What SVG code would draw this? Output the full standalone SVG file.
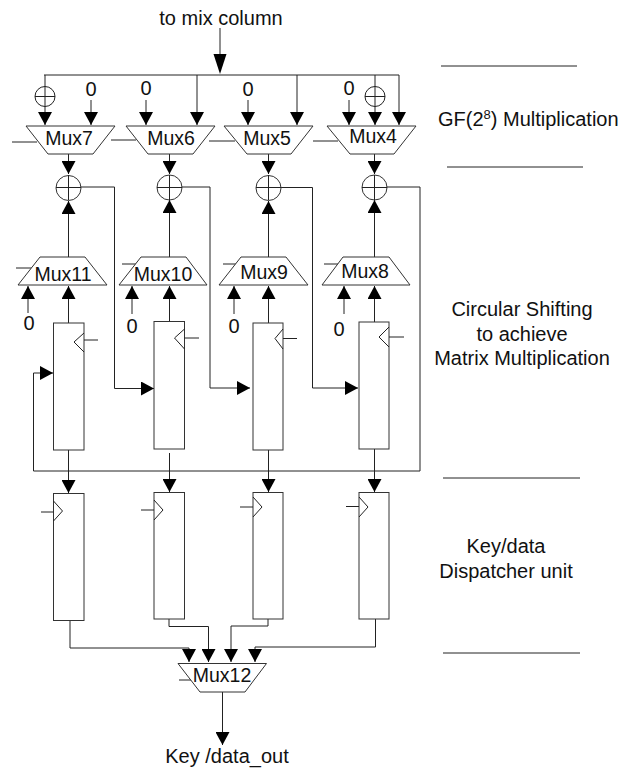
<svg xmlns="http://www.w3.org/2000/svg" width="619" height="771" viewBox="0 0 619 771">
<style>
text{font-family:"Liberation Sans",Arial,sans-serif;font-size:20px;fill:#111}
.x{font-size:19.5px}
.m{text-anchor:middle}
.c{fill:none;stroke:#222;stroke-width:1}
.g{fill:#fff;stroke:#333;stroke-width:1}
.d{fill:#000;stroke:none}
</style>
<defs>
<marker id="a" markerUnits="userSpaceOnUse" markerWidth="14" markerHeight="14" refX="13" refY="7" orient="auto"><path class="d" d="M0,0L13,7L0,14Z"/></marker>
</defs>
<rect width="619" height="771" fill="#fff"/>
<g id="connectors">
<path class="c" d="M220,28V60"/>
<path class="d" d="M213.500,54H226.500L220,74Z"/>
<path class="c" d="M44,75H399"/>
<path class="c" d="M45,75V125" marker-end="url(#a)"/>
<path class="c" d="M91,100V125" marker-end="url(#a)"/>
<path class="c" d="M146,100V125" marker-end="url(#a)"/>
<path class="c" d="M197,75V125" marker-end="url(#a)"/>
<path class="c" d="M248,100V125" marker-end="url(#a)"/>
<path class="c" d="M297,75V125" marker-end="url(#a)"/>
<path class="c" d="M349,100V125" marker-end="url(#a)"/>
<path class="c" d="M375,75V125" marker-end="url(#a)"/>
<path class="c" d="M399,75V125" marker-end="url(#a)"/>
<path class="c" d="M12,142H37M111,140H136M209,141H235M313,141H338"/>
<path class="c" d="M68.500,154V174" marker-end="url(#a)"/>
<path class="c" d="M169.500,154V174" marker-end="url(#a)"/>
<path class="c" d="M268.500,154V174" marker-end="url(#a)"/>
<path class="c" d="M374.500,154V174" marker-end="url(#a)"/>
<path class="c" d="M68.500,257V201" marker-end="url(#a)"/>
<path class="c" d="M169.500,257V200" marker-end="url(#a)"/>
<path class="c" d="M268.500,257V201" marker-end="url(#a)"/>
<path class="c" d="M374.500,257V200" marker-end="url(#a)"/>
<path class="c" d="M16,268H33M122,264H136M223,264H238M324,264H340"/>
<path class="c" d="M28,313V286" marker-end="url(#a)"/>
<path class="c" d="M132,314V286" marker-end="url(#a)"/>
<path class="c" d="M234,314V286" marker-end="url(#a)"/>
<path class="c" d="M344,314V286" marker-end="url(#a)"/>
<path class="c" d="M68.500,323V286" marker-end="url(#a)"/>
<path class="c" d="M169.500,321V286" marker-end="url(#a)"/>
<path class="c" d="M268.500,323V286" marker-end="url(#a)"/>
<path class="c" d="M374.500,322V286" marker-end="url(#a)"/>
<path class="c" d="M81,187H114.500V388.500H154" marker-end="url(#a)"/>
<path class="c" d="M182,187H210V388H250" marker-end="url(#a)"/>
<path class="c" d="M281,187.500H312.500V388H358" marker-end="url(#a)"/>
<path class="c" d="M387,187H420V471H33.500V373H53" marker-end="url(#a)"/>
<path class="c" d="M68.500,450V493" marker-end="url(#a)"/>
<path class="c" d="M169.500,453V492" marker-end="url(#a)"/>
<path class="c" d="M268.500,450V492" marker-end="url(#a)"/>
<path class="c" d="M374.500,449V492" marker-end="url(#a)"/>
<path class="c" d="M70,620V648H189V662" marker-end="url(#a)"/>
<path class="c" d="M169,619V626.500H208.500V662" marker-end="url(#a)"/>
<path class="c" d="M268,619V626H231V662" marker-end="url(#a)"/>
<path class="c" d="M375.500,619V647H255V662" marker-end="url(#a)"/>
<path class="c" d="M222.500,692V745" marker-end="url(#a)"/>
<path class="c" d="M179,680H192"/>
<path class="c" d="M441,66H577M447,167H583M443,478H580M443,653H580"/>
</g>
<g id="xor-a"><circle class="c" cx="45" cy="96.500" r="10"/><path class="c" d="M35,96.500H55"/></g>
<g id="xor-b"><circle class="c" cx="375" cy="96.500" r="10"/><path class="c" d="M365,96.500H385"/></g>
<g id="xor7"><circle class="g" cx="68.500" cy="188" r="12.500"/><path class="c" d="M56,187.500H81M68.500,175V200"/></g>
<g id="xor6"><circle class="g" cx="169.500" cy="187.500" r="12.500"/><path class="c" d="M157,187.500H182M169.500,175V200"/></g>
<g id="xor5"><circle class="g" cx="268.500" cy="188" r="12.500"/><path class="c" d="M256,187.500H281M268.500,175V200"/></g>
<g id="xor4"><circle class="g" cx="374.500" cy="187.500" r="12.500"/><path class="c" d="M362,187.500H387M374.500,175V200"/></g>
<g id="mux7"><path class="g" d="M26,126H115L93,154H48Z"/><text class="m x" x="69" y="145">Mux7</text></g>
<g id="mux6"><path class="g" d="M126,126H215L193,154H148Z"/><text class="m x" x="171" y="145">Mux6</text></g>
<g id="mux5"><path class="g" d="M224,126H313L291,154H247Z"/><text class="m x" x="267" y="145">Mux5</text></g>
<g id="mux4"><path class="g" d="M327,126H416L394,154H350Z"/><text class="m x" x="373" y="143">Mux4</text></g>
<g id="mux11"><path class="g" d="M40,257H85L107,285H18Z"/><text class="m x" x="63" y="281">Mux11</text></g>
<g id="mux10"><path class="g" d="M141,257H186L207,285H119Z"/><text class="m x" x="163" y="281">Mux10</text></g>
<g id="mux9"><path class="g" d="M241,257H286L308,285H219Z"/><text class="m x" x="264" y="279">Mux9</text></g>
<g id="mux8"><path class="g" d="M343,257H389L410,285H322Z"/><text class="m x" x="365" y="278">Mux8</text></g>
<g id="mux12"><path class="g" d="M178,663.500H266.500L245,692H200Z"/><text class="m x" x="222" y="682">Mux12</text></g>
<g id="reg1"><rect class="g" x="53.500" y="323" width="30.500" height="127"/><path class="c" d="M84,333L74,342L84,352M84,340H98"/></g>
<g id="reg2"><rect class="g" x="154" y="321.500" width="30.500" height="127.500"/><path class="c" d="M184.500,329L174.500,338L184.500,349M184.500,338H199"/></g>
<g id="reg3"><rect class="g" x="253" y="323" width="30" height="127"/><path class="c" d="M283,329L275,338.500L283,349M283,338.500H297"/></g>
<g id="reg4"><rect class="g" x="359" y="322" width="30" height="127"/><path class="c" d="M389,327L379,337L389,347M389,337H404"/></g>
<g id="regA"><rect class="g" x="53.500" y="493.500" width="30.500" height="127"/><path class="c" d="M53.500,501L62.500,511L53.500,521M41,512H53.500"/></g>
<g id="regB"><rect class="g" x="154" y="492.500" width="30.500" height="126.500"/><path class="c" d="M154,500L163,510L154,520M141,510H154"/></g>
<g id="regC"><rect class="g" x="253" y="492.500" width="30" height="126.500"/><path class="c" d="M253,497L262,507L253,517M240,507H253"/></g>
<g id="regD"><rect class="g" x="359" y="492.500" width="30" height="126.500"/><path class="c" d="M359,497L368,507L359,517M346,506.500H359"/></g>
<g id="labels">
<text class="m" x="221" y="25">to mix column</text>
<text class="m" x="91" y="96">0</text>
<text class="m" x="146" y="95">0</text>
<text class="m" x="248" y="96">0</text>
<text class="m" x="349" y="95">0</text>
<text class="m" x="29" y="330">0</text>
<text class="m" x="132" y="333">0</text>
<text class="m" x="234" y="333">0</text>
<text class="m" x="339" y="336">0</text>
<text x="438" y="126">GF(2<tspan font-size="13" dy="-7">8</tspan><tspan dy="7">) Multiplication</tspan></text>
<text class="m" x="522" y="316">Circular Shifting</text>
<text class="m" x="522" y="341">to achieve</text>
<text class="m" x="522" y="365">Matrix Multiplication</text>
<text class="m" x="506" y="553">Key/data</text>
<text class="m" x="506" y="578">Dispatcher unit</text>
<text class="m" x="227" y="763">Key /data_out</text>
</g>
</svg>
